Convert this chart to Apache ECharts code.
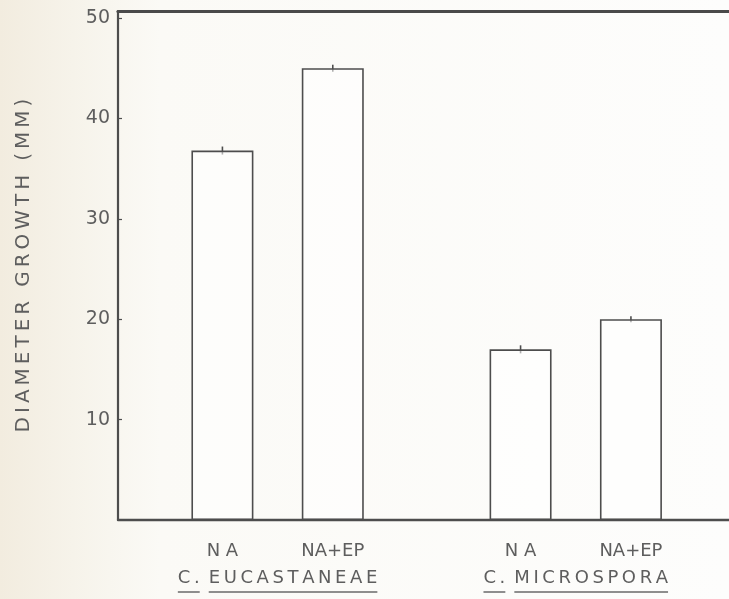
<!DOCTYPE html>
<html>
<head>
<meta charset="utf-8">
<script src="https://cdn.jsdelivr.net/npm/echarts@6/dist/echarts.min.js"></script>
<style>
  html, body { margin: 0; padding: 0; background: #fcfbf8; }
  #chart { width: 729px; height: 599px; }
</style>
</head>
<body>
<div id="chart"></div>
<script>
// Species (groups along the x axis) and treatments (one bar per group each)
const species = ['C. EUCASTANEAE', 'C. MICROSPORA'];
const treatments = ['N A', 'NA+EP'];

// Diameter growth (mm) per species, one array per treatment
const growthNA = [36.8, 17.0];
const growthNAEP = [45.0, 20.0];

// Half-length of the small error marks on top of each bar (mm)
const errNA = [0.4, 0.4];
const errNAEP = [0.35, 0.3];

// Y axis tick labels
const yTicks = [10, 20, 30, 40, 50];

const FONT = '"DejaVu Sans", sans-serif';
const TEXT = '#5e5e5e';
const INK = '#4d4d4d';
const BAR_WIDTH = 62;
const BAR_GAP = 0.78;

// spread letters a little, like stencil lettering
const track = s => s.split('').join('\u2009');

const measureCtx = document.createElement('canvas').getContext('2d');
function textWidth(str, size) {
  measureCtx.font = size + 'px ' + FONT;
  return measureCtx.measureText(str).width;
}

const SPECIES_SIZE = 18;
const UNDERLINE = '#6a6a6a';
// Species name with genus initial and epithet underlined separately
function speciesLabel(name, idx) {
  const cut = name.indexOf(' ');
  const genus = track(name.slice(0, cut));
  const epithet = track(name.slice(cut + 1));
  const gap = '\u2002';
  const a = 'a' + idx, b = 'b' + idx, g = 'g' + idx;
  const rich = {};
  rich[a] = { width: textWidth(genus, SPECIES_SIZE), height: 1.5, lineHeight: 8, backgroundColor: UNDERLINE };
  rich[g] = { width: textWidth(gap, SPECIES_SIZE), height: 1.5, lineHeight: 8 };
  rich[b] = { width: textWidth(epithet, SPECIES_SIZE), height: 1.5, lineHeight: 8, backgroundColor: UNDERLINE };
  return {
    text: '{t|' + genus + '}{t|' + gap + '}{t|' + epithet + '}\n' +
          '{' + a + '| }{' + g + '| }{' + b + '| }',
    rich: rich
  };
}
const labels = species.map(speciesLabel);
const speciesRich = Object.assign(
  { t: { fontFamily: FONT, fontSize: SPECIES_SIZE, color: TEXT, lineHeight: 20 } },
  ...labels.map(l => l.rich)
);

const chart = echarts.init(document.getElementById('chart'), null, { renderer: 'canvas' });

function barSeries(name, values) {
  return {
    type: 'bar',
    name: name,
    data: values.map((v, i) => [i, v]),
    barWidth: BAR_WIDTH,
    barGap: (BAR_GAP * 100) + '%',
    itemStyle: { color: 'rgba(255,255,255,0.55)', borderColor: INK, borderWidth: 1.6 },
    label: {
      show: true,
      position: 'bottom',
      distance: 22,
      formatter: () => name,
      fontFamily: FONT,
      fontSize: 18,
      color: TEXT
    },
    emphasis: { disabled: true },
    silent: true
  };
}

// offset (px) of each treatment bar from its group centre
const halfStep = BAR_WIDTH * (1 + BAR_GAP) / 2;

function errorSeries(values, errs, dx) {
  return {
    type: 'custom',
    data: values.map((v, i) => [i, v, errs[i]]),
    encode: { x: 0, y: 1 },
    silent: true,
    renderItem: function (params, api) {
      const x = api.value(0), v = api.value(1), e = api.value(2);
      const lo = api.coord([x, v - e]);
      const hi = api.coord([x, v + e]);
      return {
        type: 'line',
        shape: { x1: lo[0] + dx, y1: lo[1], x2: hi[0] + dx, y2: hi[1] },
        style: { stroke: INK, lineWidth: 1.6 }
      };
    }
  };
}

// the frame runs off the right edge, so the x range stops short of a right border
const X_MIN = -0.5353, X_MAX = 1.514;

chart.setOption({
  backgroundColor: {
    type: 'linear', x: 0, y: 0, x2: 1, y2: 0,
    colorStops: [
      { offset: 0, color: '#f2ecdf' },
      { offset: 0.1, color: '#f6f3ea' },
      { offset: 0.22, color: '#fbfaf6' },
      { offset: 1, color: '#fdfdfc' }
    ]
  },
  animation: false,
  grid: { left: 118, top: 11, bottom: 79, right: 0, containLabel: false },
  xAxis: [
    {
      type: 'value',
      position: 'bottom',
      min: X_MIN, max: X_MAX,
      axisLine: { show: true, onZero: false, lineStyle: { color: INK, width: 2.4 } },
      axisTick: { show: false },
      splitLine: { show: false },
      axisLabel: {
        customValues: [0, 1],
        margin: 48,
        formatter: v => labels[v].text,
        rich: speciesRich
      }
    },
    {
      type: 'value',
      position: 'top',
      min: X_MIN, max: X_MAX,
      axisLine: { show: true, onZero: false, lineStyle: { color: '#4a4a4a', width: 3.2 } },
      axisTick: { show: false },
      axisLabel: { show: false },
      splitLine: { show: false }
    }
  ],
  yAxis: {
    type: 'value',
    min: 0,
    max: 50.7,
    name: track('DIAMETER') + '\u2002\u2009' + track('GROWTH') + '\u2002\u2009' + track('(MM)'),
    nameLocation: 'middle',
    nameRotate: 90,
    nameGap: 84,
    nameTextStyle: { fontFamily: FONT, fontSize: 20, color: TEXT },
    axisLine: { show: true, onZero: false, lineStyle: { color: INK, width: 2.2 } },
    axisTick: { show: true, inside: true, length: 4, customValues: yTicks, lineStyle: { color: INK, width: 1.2 } },
    axisLabel: {
      customValues: yTicks,
      margin: 8,
      fontFamily: FONT,
      fontSize: 19,
      color: TEXT
    },
    splitLine: { show: false }
  },
  series: [
    barSeries(treatments[0], growthNA),
    barSeries(treatments[1], growthNAEP),
    errorSeries(growthNA, errNA, -halfStep),
    errorSeries(growthNAEP, errNAEP, halfStep)
  ]
});
</script>
</body>
</html>
